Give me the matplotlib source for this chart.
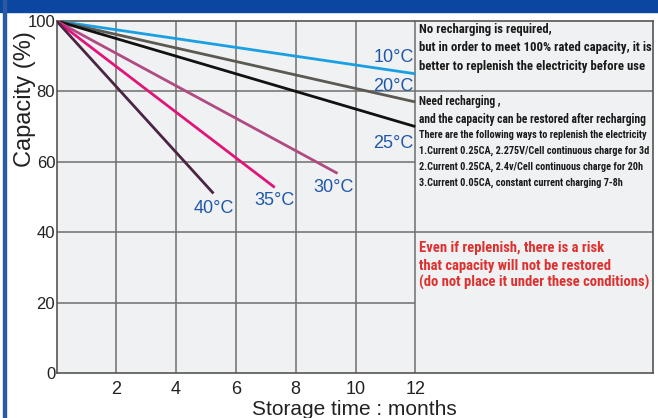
import matplotlib.pyplot as plt
from matplotlib import font_manager as fm
from matplotlib.patches import Rectangle

# storage time (months) vs remaining capacity (%) per temperature
temps = ['10°C', '20°C', '25°C', '30°C', '35°C', '40°C']
end_month = [12, 12, 12, 9.4, 7.3, 5.25]
end_capacity = [85, 77, 70, 56.7, 52.7, 51]
colors = ['#1a9fe2', '#5b5a52', '#111111', '#b04a82', '#e0157a', '#4b2444']

# where the temperature labels sit
label_x = [11.95, 11.95, 11.95, 9.95, 7.95, 5.95]
label_y = [89.5, 81.5, 65.3, 52.7, 49.0, 46.7]

xticks = [2, 4, 6, 8, 10, 12]
yticks = [0, 20, 40, 60, 80, 100]

note1 = ['No recharging is required,',
         'but in order to meet 100% rated capacity, it is',
         'better to replenish the electricity before use']
note1_y = [97.6, 92.5, 87.0]
note2 = ['Need recharging ,',
         'and the capacity can be restored after recharging']
note2_y = [77.2, 72.1]
note3 = ['There are the following ways to replenish the electricity',
         '1.Current 0.25CA, 2.275V/Cell continuous charge for 3d',
         '2.Current 0.25CA, 2.4v/Cell continuous charge for 20h',
         '3.Current 0.05CA, constant current charging 7-8h']
note3_y = [67.5, 63.0, 58.7, 54.1]
note4 = ['Even if replenish, there is a risk',
         'that capacity will not be restored',
         '(do not place it under these conditions)']
note4_y = [35.6, 30.5, 25.6]

plt.rcParams['font.family'] = ['Liberation Sans', 'DejaVu Sans']

# look for a narrow bold face for the notes, else plain bold sans
note_font = fm.FontProperties(family=['Liberation Sans', 'DejaVu Sans'], weight='bold')
for key in ['LiberationSansNarrow-Bold', 'RobotoCondensed-Bold', 'Roboto_Condensed-Bold',
            'NotoSans-CondensedBold', 'OpenSans-CondensedBold', 'OpenSans_Condensed-Bold',
            'DejaVuSansCondensed-Bold']:
    hits = [f.fname for f in fm.fontManager.ttflist
            if key.lower() in f.fname.lower().replace(' ', '') and 'italic' not in f.fname.lower()]
    if hits:
        note_font = fm.FontProperties(fname=hits[0])
        break

fig = plt.figure(figsize=(6.58, 4.18), dpi=100)
ax = fig.add_axes([0.0859, 0.1077, 0.9065, 0.8421])
ax.set_facecolor('#f0f1f3')
ax.set_xlim(0, 19.95)
ax.set_ylim(0, 100)

grid_c = '#6e6e6e'
for x in xticks:
    ax.axvline(x, color=grid_c, lw=1.1, zorder=1)
for y in [40, 80]:
    ax.hlines(y, 0, 20, color=grid_c, lw=1.1, zorder=1)
for y in [20, 60]:
    ax.hlines(y, 0, 12, color=grid_c, lw=1.1, zorder=1)

for i in range(len(temps)):
    ax.plot([0, end_month[i]], [100, end_capacity[i]], color=colors[i],
            lw=2.0, solid_capstyle='butt', zorder=3)
    ax.text(label_x[i], label_y[i], temps[i], color='#2058a8', fontsize=13,
            ha='right', va='center', zorder=4)

for s in ax.spines.values():
    s.set_color('#555555')
    s.set_linewidth(1.2)

ax.set_xticks(xticks)
ax.set_yticks(yticks)
ax.tick_params(length=0)
ax.tick_params(axis='x', labelsize=13, pad=6, colors='#222222')
ax.tick_params(axis='y', labelsize=12, pad=1, colors='#222222')
ax.set_xlabel('Storage time : months', fontsize=15, labelpad=1, color='#222222')
fig.text(0.038, 0.763, 'Capacity (%)', rotation=90, fontsize=17,
         ha='center', va='center', color='#222222')

# notes on the right; shrink each block so its widest line fits the box
blocks = [(note1, note1_y, 232, '#1a1a1a'),
          (note2, note2_y, 227, '#1a1a1a'),
          (note3, note3_y, 232, '#1a1a1a'),
          (note4, note4_y, 230, '#e0302e')]
renderer = fig.canvas.get_renderer()
for lines, ys, width_px, c in blocks:
    texts = [ax.text(12.12, y, t, fontproperties=note_font, fontsize=10, color=c,
                     va='center', ha='left', zorder=4)
             for t, y in zip(lines, ys)]
    widest = max(t.get_window_extent(renderer).width for t in texts)
    for t in texts:
        t.set_fontsize(10 * width_px / widest)

# blue header band and left border
fig.patches.append(Rectangle((0, 1 - 12 / 418), 1, 12 / 418,
                             transform=fig.transFigure, color='#0b47a1'))
fig.patches.append(Rectangle((3 / 658, 0), 3 / 658, 1,
                             transform=fig.transFigure, color='#2a5aa0'))

fig.savefig('out.png', dpi=100)
